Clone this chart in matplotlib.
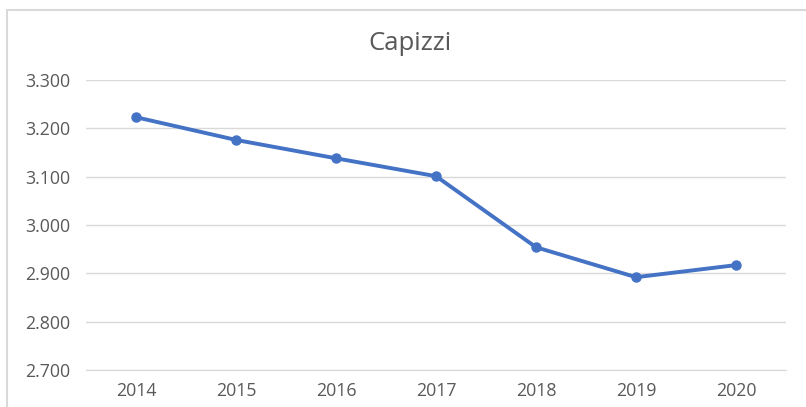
import matplotlib
matplotlib.use("Agg")
import matplotlib.pyplot as plt
from matplotlib.patches import Rectangle
from matplotlib.ticker import FuncFormatter

years = ["2014", "2015", "2016", "2017", "2018", "2019", "2020"]
values = [3223, 3176, 3138, 3101, 2954, 2892, 2917]
y_ticks = [2700, 2800, 2900, 3000, 3100, 3200, 3300]

plt.rcParams['font.family'] = ['Open Sans', 'DejaVu Sans']

fig = plt.figure(figsize=(8.06, 4.07), dpi=100)
fig.patch.set_facecolor("white")

# outer chart border (cropped on right/bottom)
fig.add_artist(Rectangle((7/806, -0.05), 1.2, 1 - 10/407 + 0.05, transform=fig.transFigure,
                         fill=False, edgecolor="#d9d9d9", linewidth=1.5))

ax = fig.add_axes([86/806, 1 - 370/407, 700/806, 290/407])
x = list(range(len(years)))
ax.plot(x, values, color="#4472C4", linewidth=2.8, marker="o", markersize=6.5,
        solid_capstyle="round", zorder=3)

ax.set_xlim(-0.5, len(years) - 0.5)
ax.set_ylim(2700, 3300)
ax.set_yticks(y_ticks)
ax.yaxis.set_major_formatter(FuncFormatter(lambda v, p: f"{v/1000:.3f}"))
ax.set_xticks(x)
ax.set_xticklabels(years)

ax.grid(axis="y", color="#d9d9d9", linewidth=1.0)
ax.set_axisbelow(True)
for s in ax.spines.values():
    s.set_visible(False)
ax.spines["bottom"].set_visible(True)
ax.spines["bottom"].set_color("#d9d9d9")
ax.tick_params(axis="both", length=0, colors="#595959", labelsize=12.8)
ax.tick_params(axis="y", pad=11.5)
ax.tick_params(axis="x", pad=9)

fig.text(410/806, 1 - 43/407, "Capizzi", ha="center", va="center",
         fontsize=18.5, color="#595959")

fig.savefig("out.png", dpi=100, facecolor="white")
